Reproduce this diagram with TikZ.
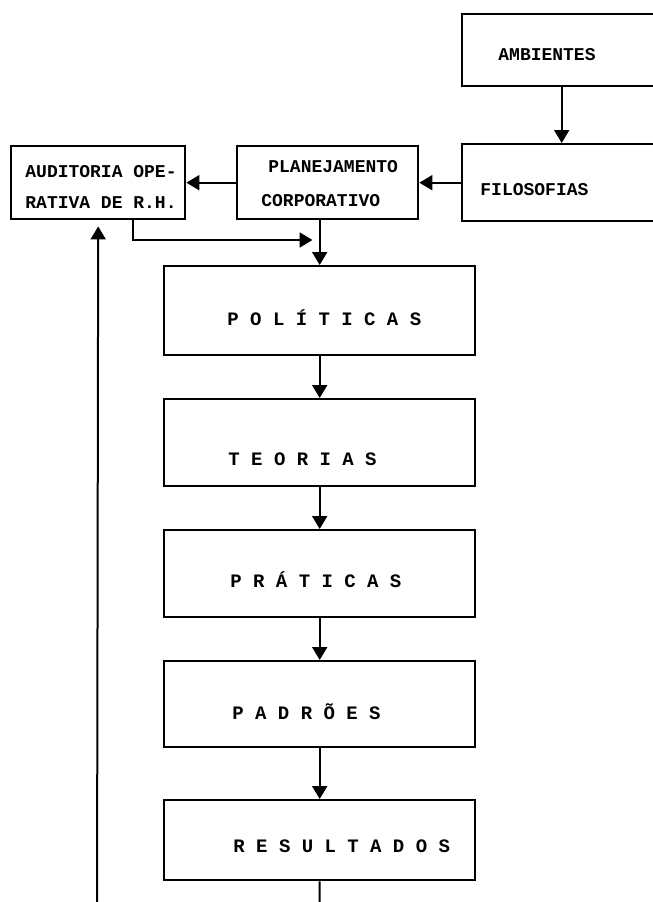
\documentclass[tikz,border=0pt]{standalone}
\usepackage{fontspec}
\setmonofont{Liberation Mono}
\usetikzlibrary{arrows.meta}

\begin{document}
\begin{tikzpicture}[x=0.5pt,y=-0.5pt]

    % Área visível (os blocos da direita e o retorno saem da folha)
    \clip (0,0) rectangle (653,902);

    % Tamanho dos blocos centrais (largura e altura)
    \def\szw{155.5pt}
    \def\szh{43.5pt}

    % Estilos de bloco, texto e seta
    \tikzstyle{bloco} = [
      draw, rectangle, line width=1.2pt, inner sep=0pt, anchor=north west
    ];
    \tikzstyle{texto} = [
      anchor=base west, inner sep=0pt,
      font=\ttfamily\bfseries\fontsize{9}{11}\selectfont
    ];
    \tikzstyle{titulo} = [
      texto, font=\ttfamily\bfseries\fontsize{9.5}{11}\selectfont
    ];
    \tikzstyle{seta} = [line width=1pt, -{Triangle[length=6.5pt,width=7.5pt]}];

    % Blocos de cima
    \node[bloco, minimum width=99.5pt, minimum height=36pt] (amb) at (461,13) {};
    \node[bloco, minimum width=99.5pt, minimum height=38.5pt] (fil) at (461,143) {};
    \node[bloco, minimum width=90.5pt, minimum height=36.5pt] (plan) at (236,145) {};
    \node[bloco, minimum width=87pt, minimum height=36.5pt] (aud) at (10,145) {};

    % Blocos centrais
    \node[bloco, minimum width=\szw, minimum height=44.5pt] (pol) at (163,265) {};
    \node[bloco, minimum width=\szw, minimum height=\szh] (teo) at (163,398) {};
    \node[bloco, minimum width=\szw, minimum height=\szh] (pra) at (163,529) {};
    \node[bloco, minimum width=\szw, minimum height=43pt] (pad) at (163,660) {};
    \node[bloco, minimum width=\szw, minimum height=40pt] (res) at (163,799) {};

    % Textos
    \node[texto] (tamb) at (498,60) {AMBIENTES};
    \node[texto] (tfil) at (480,195) {FILOSOFIAS};
    \node[texto] (tplan1) at (268,172) {PLANEJAMENTO};
    \node[texto] (tplan2) at (261,206) {CORPORATIVO};
    \node[texto] (taud1) at (25,177) {AUDITORIA OPE-};
    \node[texto] (taud2) at (25,208) {RATIVA DE R.H.};

    \node[titulo] (tpol) at (227,325) {P O L Í T I C A S};
    \node[titulo] (tteo) at (228,465) {T E O R I A S};
    \node[titulo] (tpra) at (230,587) {P R Á T I C A S};
    \node[titulo] (tpad) at (232,719) {P A D R Õ E S};
    \node[titulo] (tres) at (233,852) {R E S U L T A D O S};

    % Ligações
    \draw[seta] (amb.south) -- (fil.north);
    \draw[seta] (fil.west) -- (plan.east);
    \draw[seta] (plan.west) -- (aud.east);

    \coordinate (juncao) at (318.5,240);
    \draw[seta, shorten >=3pt] ([xshift=17.5pt]aud.south) |- (juncao);
    \draw[seta] (plan.south -| pol.north) -- (pol.north);

    \foreach \a/\b in {pol/teo,teo/pra,pra/pad,pad/res}
      \draw[seta] (\a.south) -- (\b.north);

    % Retorno para a auditoria
    \coordinate (retorno) at (97,920);
    \draw[seta, shorten >=3pt] (res.south) |- (retorno) -- (aud.south);

\end{tikzpicture}
\end{document}
